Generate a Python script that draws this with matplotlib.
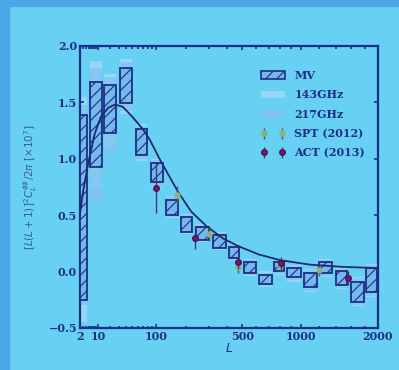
import numpy as np
import matplotlib
matplotlib.use("Agg")
import matplotlib.pyplot as plt
from matplotlib.patches import Rectangle, Patch

# lensing bandpowers, [L(L+1)]^2 C_L^pp / 2pi  x 1e7
mv_lmin = [2, 5, 14, 30, 54, 85, 125, 175, 236, 316, 406, 503, 612, 741, 851, 1021, 1186, 1392, 1588, 1802]
mv_lmax = [4.6, 13.5, 27, 50, 81, 122, 171, 226, 306, 400, 482, 605, 735, 843, 1011, 1186, 1365, 1561, 1802, 2000]
mv_lo = [-0.25, 0.93, 1.23, 1.49, 1.03, 0.79, 0.50, 0.35, 0.28, 0.21, 0.12, -0.01, -0.11, 0.00, -0.05, -0.14, -0.01, -0.12, -0.27, -0.18]
mv_hi = [1.39, 1.68, 1.65, 1.80, 1.26, 0.96, 0.635, 0.48, 0.395, 0.32, 0.22, 0.08, -0.03, 0.085, 0.03, -0.01, 0.08, 0.00, -0.09, 0.03]

f143_lo = [-0.45, 0.75, 1.10, 1.40, 0.98, 0.74, 0.47, 0.33, 0.26, 0.19, 0.10, -0.04, -0.14, -0.03, -0.09, -0.18, -0.05, -0.16, -0.31, -0.23]
f143_hi = [1.55, 1.87, 1.75, 1.88, 1.31, 1.00, 0.67, 0.51, 0.42, 0.35, 0.25, 0.11, 0.00, 0.11, 0.06, 0.02, 0.11, 0.03, -0.05, 0.07]
f217_lo = [-0.30, 0.60, 1.05, 1.42, 1.00, 0.75, 0.48, 0.34, 0.27, 0.20, 0.11, -0.03, -0.13, -0.02, -0.08, -0.17, -0.04, -0.15, -0.30, -0.22]
f217_hi = [1.48, 1.80, 1.72, 1.86, 1.29, 0.99, 0.66, 0.50, 0.41, 0.34, 0.24, 0.10, -0.01, 0.10, 0.05, 0.01, 0.10, 0.02, -0.06, 0.06]

theory_L = [2, 3, 5, 8, 12, 18, 25, 35, 50, 70, 85, 110, 140, 170, 220, 290, 380, 480, 620, 800, 1100, 1500, 2000]
theory_v = [0.50, 0.72, 0.98, 1.22, 1.37, 1.45, 1.48, 1.46, 1.37, 1.26, 1.17, 1.00, 0.84, 0.70, 0.53, 0.40, 0.29, 0.22, 0.15, 0.10, 0.06, 0.04, 0.03]

spt_L = [165, 300, 470, 800, 1200]
spt_v = [0.68, 0.33, 0.04, 0.05, 0.01]
spt_e = [0.08, 0.06, 0.05, 0.05, 0.05]

act_L = [100, 235, 470, 810, 1560]
act_v = [0.74, 0.30, 0.08, 0.075, -0.06]
act_e = [0.22, 0.10, 0.06, 0.05, 0.06]

xticks = [2, 10, 100, 500, 1000, 2000]
yticks = [-0.5, 0.0, 0.5, 1.0, 1.5, 2.0]

bg = "#68d0f3"
navy = "#1b2f86"
plt.rcParams["font.family"] = ["DejaVu Serif"]
plt.rcParams["hatch.linewidth"] = 0.8
plt.rcParams["hatch.color"] = navy

fig = plt.figure(figsize=(3.99, 3.70), dpi=100, facecolor=bg)
# darker slide border on the left and top
fig.patches.append(Rectangle((0, 0), 0.022, 1, transform=fig.transFigure, color="#4aa9e4", zorder=0))
fig.patches.append(Rectangle((0, 0.985), 1, 0.015, transform=fig.transFigure, color="#4aa9e4", zorder=0))

ax = fig.add_axes([0.200, 0.114, 0.747, 0.762], facecolor=bg)
p = 0.4
ax.set_xscale("function", functions=(lambda x: np.sign(x) * np.abs(x) ** p,
                                     lambda x: np.sign(x) * np.abs(x) ** (1 / p)))

gap = 0.12
def box(l0, l1, lo, hi, **kw):
    a, b = l0 ** p, l1 ** p
    x0 = (a + gap / 2) ** (1 / p) if l0 > 2 else l0
    x1 = (b - gap / 2) ** (1 / p)
    ax.add_patch(Rectangle((x0, lo), x1 - x0, hi - lo, **kw))

for l0, l1, lo, hi in zip(mv_lmin, mv_lmax, f143_lo, f143_hi):
    box(l0, l1, lo, hi, facecolor="#94d8f6", edgecolor="none", zorder=1)
for l0, l1, lo, hi in zip(mv_lmin, mv_lmax, f217_lo, f217_hi):
    box(l0, l1, lo, hi, facecolor="#80c4f0", edgecolor="none", zorder=2, alpha=0.8)
for l0, l1, lo, hi in zip(mv_lmin, mv_lmax, mv_lo, mv_hi):
    box(l0, l1, lo, hi, facecolor="#74b8ec", edgecolor=navy, hatch="///", lw=1.3, zorder=3)

ax.plot(theory_L, theory_v, color="#1d2a6e", lw=1.3, zorder=4)
spt = ax.errorbar(spt_L, spt_v, yerr=spt_e, fmt="o", ms=3.5, color="#8fb07a", mec="#8fb07a",
                  ecolor="#445a6a", elinewidth=1, capsize=0, zorder=5)
act = ax.errorbar(act_L, act_v, yerr=act_e, fmt="o", ms=4, color="#7a1a5a", mec="#4a1060",
                  ecolor="#34406a", elinewidth=1, capsize=0, zorder=6)

ax.set_xlim(2, 2000)
ax.set_ylim(-0.5, 2.0)
ax.set_xticks(xticks)
ax.set_xticklabels([str(t) for t in xticks])
ax.set_xticks([3, 4, 5, 6, 7, 8, 9, 20, 30, 40, 50, 60, 70, 80, 90, 200, 300, 400,
               600, 700, 800, 900, 1200, 1400, 1600, 1800], minor=True)
ax.set_yticks(yticks)
ax.set_yticklabels(["\u22120.5", "0.0", "0.5", "1.0", "1.5", "2.0"])
ax.tick_params(which="both", direction="in", top=True, right=True, colors=navy,
               labelsize=8, width=1.2, length=3, pad=2)
ax.tick_params(which="minor", length=1.8)
for lab in ax.get_xticklabels() + ax.get_yticklabels():
    lab.set_fontweight("bold")
for s in ax.spines.values():
    s.set_color(navy)
    s.set_linewidth(1.6)

ax.set_xlabel("$L$", color=navy, fontsize=9, labelpad=0)
ax.set_ylabel(r"$[L(L+1)]^2 C_L^{\phi\phi}/2\pi\ [\times 10^7]$", color="#3a5aa0", fontsize=7.5, labelpad=7)

handles = [
    Patch(facecolor="#74b8ec", edgecolor=navy, hatch="///", lw=1.2),
    Patch(facecolor="#94d8f6", edgecolor="none"),
    Patch(facecolor="#80c4f0", edgecolor="none"),
    spt,
    act,
]
labels = ["MV", "143GHz", "217GHz", "SPT (2012)", "ACT (2013)"]
leg = ax.legend(handles, labels, loc="upper right", bbox_to_anchor=(0.99, 0.95), frameon=False,
                numpoints=2, fontsize=8, handlelength=2.2, labelspacing=0.75, handletextpad=0.8)
for t in leg.get_texts():
    t.set_color(navy)
    t.set_fontweight("bold")

fig.savefig("out.png", dpi=100, facecolor=bg)
